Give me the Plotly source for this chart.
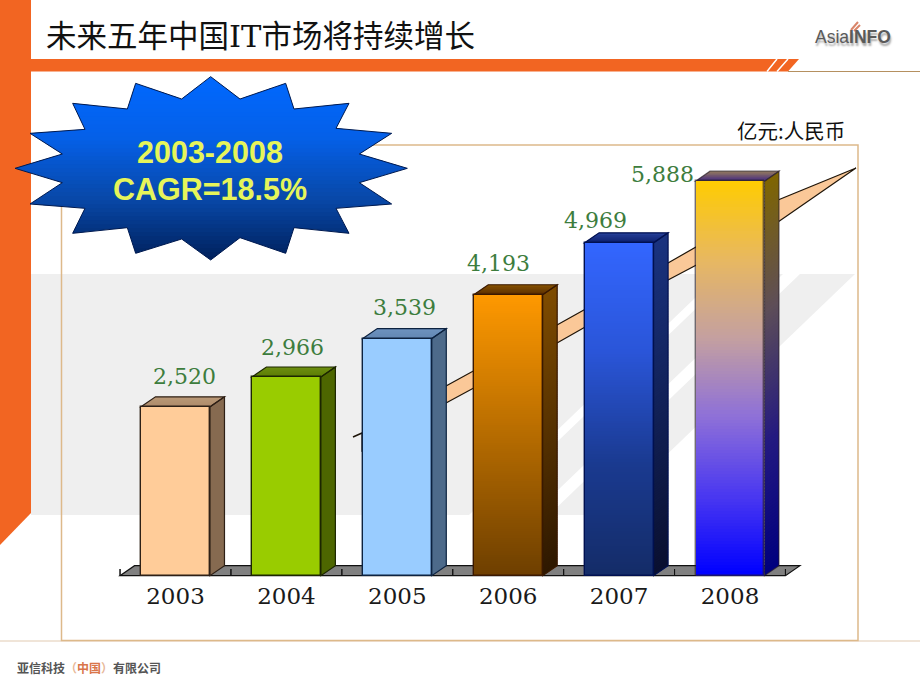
import plotly.graph_objects as go

# ---------- data ----------
years = ["2003", "2004", "2005", "2006", "2007", "2008"]
values = [2520, 2966, 3539, 4193, 4969, 5888]
title_text = "未来五年中国IT市场将持续增长"
unit_text = "亿元:人民币"
star_lines = ["2003-2008", "CAGR=18.5%"]

# label nudges (pixels relative to the bar's centre / top)
label_dx = [9, 6, 7, -10, -24, -68]
label_dy = [30, 29, 31, 31, 22, 7]

front_stops = [
    ["#FFCC99"], ["#99CC00"], ["#99CCFF"],
    ["#FF9900", "#6E3F00"],
    ["#3366FF", "#2A55D8", "#1A3A90", "#142C68"],
    ["#FFCC00", "#E8B860", "#C4A0A0", "#8E70D8", "#4A38F0", "#0000FF"],
]
side_stops = [
    ["#866A50"], ["#4D6600"], ["#4D6A8A"],
    ["#7F4C00", "#2E1800"],
    ["#1A3380", "#0A1030"],
    ["#806600", "#5E4E58", "#241A80", "#00007F"],
]
top_colors = [
    ("#BC9A78", "#AE8C6C"), ("#6E9010", "#5E7E06"), ("#6E94C0", "#6488B4"),
    ("#8A5600", "#5E3000"), ("#2A44A0", "#0E2270"), ("#A08558", "#4A3080"),
]
outline = ["#2E2016", "#1C2600", "#0C2240", "#3A1800", "#001050", "rgba(40,30,40,0.65)"]

# ---------- geometry (pixel calibration of the reference) ----------
W, H = 920, 690
BASE_PX, PX_PER_VALUE = 575.7, 0.067
FIRST_PX, PX_PER_CAT = 175.5, 110.9
BAR_W = 0.622
DX = 14.5 / PX_PER_CAT
DV = 10 / PX_PER_VALUE
ORANGE = "#F26522"
N_SLICES = 130
LAP = 20  # overlap between gradient slices, avoids hairline seams


def px(x):
    return x / W


def py(y):
    return 1 - y / H


def hex2rgb(c):
    return tuple(int(c[i:i + 2], 16) for i in (1, 3, 5))


def ramp(stops, t):
    if len(stops) == 1:
        return stops[0]
    p = t * (len(stops) - 1)
    k = min(int(p), len(stops) - 2)
    f = p - k
    a, b = hex2rgb(stops[k]), hex2rgb(stops[k + 1])
    return "rgb(%d,%d,%d)" % tuple(round(a[j] + (b[j] - a[j]) * f) for j in range(3))


def page_path(points):
    return "M " + " L ".join(f"{px(x):.5f},{py(y):.5f}" for x, y in points) + " Z"


def page_shape(points, fill=None, line=None, width=0, layer="below"):
    return dict(type="path", xref="paper", yref="paper", layer=layer, path=page_path(points),
                fillcolor=fill or "rgba(0,0,0,0)",
                line=dict(color=line or "rgba(0,0,0,0)", width=width))


def data_shape(points, fill=None, line=None, width=0):
    path = "M " + " L ".join(f"{x:.4f},{y:.2f}" for x, y in points) + " Z"
    return dict(type="path", xref="x", yref="y", layer="below", path=path,
                fillcolor=fill or "rgba(0,0,0,0)",
                line=dict(color=line or "rgba(0,0,0,0)", width=width))


def clip_band(poly, y0, y1):
    def clip(pts, inside, cross):
        out = []
        for i, p in enumerate(pts):
            q = pts[(i + 1) % len(pts)]
            if inside(p):
                out.append(p)
            if inside(p) != inside(q):
                out.append(cross(p, q))
        return out

    def at(yv):
        return lambda p, q: (p[0] + (q[0] - p[0]) * (yv - p[1]) / (q[1] - p[1]), yv)

    r = clip(poly, lambda p: p[1] >= y0, at(y0))
    if r:
        r = clip(r, lambda p: p[1] <= y1, at(y1))
    return r


shapes = []

# ---------- slide background ----------
S = 0.96  # slope of the pale stripes
GT, GB = 274, 515
shapes.append(page_shape([(31, GT), (720, GT), (720 - (GB - GT) / S, GB), (31, GB)], "#EFEFEF"))
shapes.append(page_shape([(732, GT), (783, GT), (783 - (GB - GT) / S, GB), (732 - (GB - GT) / S, GB)], "#EFEFEF"))
shapes.append(page_shape([(800, GT), (855, GT), (855 - (GB - GT) / S, GB), (800 - (GB - GT) / S, GB)], "#EFEFEF"))

shapes.append(page_shape([(0, 641), (920, 641)], line="#EBDCCB", width=1))
shapes.append(page_shape([(61.5, 145), (858, 145), (858, 640.5), (61.5, 640.5)], line="#DDB98A", width=1.5))

shapes.append(page_shape([(0, 0), (31, 0), (31, 513), (0, 545)], ORANGE))
shapes.append(page_shape([(31, 59), (799, 59), (788, 71.5), (31, 71.5)], ORANGE))
shapes.append(page_shape([(767, 71.5), (777, 59)], line="#FFFFFF", width=1.5))
shapes.append(page_shape([(777, 71.5), (788, 59)], line="#FFFFFF", width=1.5))
shapes.append(page_shape([(788, 71.5), (920, 71.5)], line="#B59060", width=1.2))

# logo flame
shapes.append(page_shape([(851, 30), (858, 22)], line="#D9856A", width=2))
shapes.append(page_shape([(854, 31), (860, 25)], line="#D9856A", width=2))

# trend arrow behind the bars
arrow = [(362, 433), (446, 386), (557, 325), (668, 263), (778, 200), (856, 168),
         (778, 222), (668, 280), (557, 343), (446, 403), (362, 451)]
shapes.append(page_shape(arrow, "#FAC898", "#1E1408", 1.2))
shapes.append(page_shape([(353, 437), (362, 433)], line="#1E1408", width=1.5))

# ---------- floor ----------
n = len(years)
shapes.append(data_shape([(-0.5, 0), (n - 0.5, 0), (n - 0.5 + DX, DV), (-0.5 + DX, DV)],
                         "#808080", "#111111", 1.2))
for i in range(n + 1):
    shapes.append(data_shape([(i - 0.5, 0), (i - 0.5, 100)], line="#111111", width=1))

# ---------- 3-D side and top faces ----------
traces = []
for i, v in enumerate(values):
    x1, x2 = i + BAR_W / 2, i + BAR_W / 2 + DX
    xl = i - BAR_W / 2
    stops = side_stops[i]
    m = 1 if len(stops) == 1 else N_SLICES
    for k in range(m):
        hi = v * (1 - k / m)
        lo = v * (1 - (k + 1) / m)
        lap = LAP if k else 0
        shapes.append(data_shape([(x1, lo), (x1, hi + lap), (x2, hi + lap + DV), (x2, lo + DV)],
                                 ramp(stops, (k + 0.5) / m)))
    back, front = top_colors[i]
    tops = 6
    for k in range(tops):
        t0 = max(0, k / tops - 0.1)
        t1 = (k + 1) / tops
        shapes.append(data_shape([
            (xl + DX * (1 - t0), v + DV * (1 - t0)), (x1 + DX * (1 - t0), v + DV * (1 - t0)),
            (x1 + DX * (1 - t1), v + DV * (1 - t1)), (xl + DX * (1 - t1), v + DV * (1 - t1))],
            ramp([back, front], (k + 0.5) / tops)))
    shapes.append(data_shape([(x1, 0), (x1, v), (x2, v + DV), (x2, DV)], None, outline[i], 1.2))
    shapes.append(data_shape([(xl, v), (xl + DX, v + DV), (x2, v + DV), (x1, v)], None, outline[i], 1.2))

    # front face: a stack of thin bars carrying the gradient
    fs = front_stops[i]
    m = 1 if len(fs) == 1 else N_SLICES
    tops_y = [v * (1 - k / m) + (LAP if k else 0) for k in range(m)]
    base_y = [v * (1 - (k + 1) / m) for k in range(m)]
    traces.append(go.Bar(
        x=[i] * m, y=[a - b for a, b in zip(tops_y, base_y)], base=base_y,
        width=BAR_W, marker=dict(color=[ramp(fs, (k + 0.5) / m) for k in range(m)], line=dict(width=0)),
        hoverinfo="skip", showlegend=False))

traces.append(go.Bar(
    x=list(range(n)), y=values, width=BAR_W,
    marker=dict(color="rgba(0,0,0,0)", line=dict(color=outline, width=1.4)),
    name="亿元", showlegend=False))

# ---------- star ----------
star = [(632, 230), (720, 297), (857, 250), (882, 327), (1047, 310), (1008, 385), (1175, 400),
        (1078, 462), (1222, 505), (1078, 548), (1175, 612), (1008, 625), (1047, 700), (882, 683),
        (857, 760), (720, 713), (632, 780), (545, 717), (407, 760), (382, 683), (218, 700),
        (255, 625), (90, 612), (187, 548), (45, 505), (187, 462), (90, 400), (255, 388),
        (218, 310), (382, 327), (407, 250), (545, 297)]
star = [(a / 3, b / 3) for a, b in star]
star_top, star_bot = min(p[1] for p in star), max(p[1] for p in star)
star_stops = ["#0068FF", "#0560E8", "#0848A8", "#00205C"]
bands = 46
for k in range(bands):
    y0 = star_top + (star_bot - star_top) * k / bands
    y1 = star_top + (star_bot - star_top) * (k + 1) / bands + 1
    piece = clip_band(star, y0, y1)
    if len(piece) > 2:
        shapes.append(page_shape(piece, ramp(star_stops, (k + 0.5) / bands), layer="above"))
shapes.append(page_shape(star, None, "#001A50", 1, layer="above"))

# ---------- text ----------
annotations = []


def page_text(x, y, text, size, color, family, anchor="left"):
    annotations.append(dict(xref="paper", yref="paper", x=px(x), y=py(y), text=text, showarrow=False,
                            xanchor=anchor, yanchor="middle", align=anchor,
                            font=dict(size=size, color=color, family=family)))


CJK = "Noto Sans CJK SC"
page_text(44, 37, title_text, 30.5, "#111111", f"DejaVu Serif, {CJK}")
page_text(735, 130, unit_text, 20.5, "#111111", CJK)
page_text(210, 152, f"<b>{star_lines[0]}</b>", 30.5, "#E6F55A", "Liberation Sans", "center")
page_text(210, 189, f"<b>{star_lines[1]}</b>", 30.5, "#E6F55A", "Liberation Sans", "center")
page_text(15, 667,
          "<b>亚信科技<span style='color:#E8B898'>（</span><span style='color:#D9764A'>中国</span>"
          "<span style='color:#E8B898'>）</span>有限公司</b>", 12, "#555555", CJK)
annotations.append(dict(xref="paper", yref="paper", x=px(813), y=py(37), text="Asia<b>INFO</b>",
                        showarrow=False, xanchor="left", yanchor="middle",
                        font=dict(size=17.5, color="#5A5A5A", family="Liberation Sans",
                                  shadow="1px 3px 2px #AAAAAA")))
for i, v in enumerate(values):
    annotations.append(dict(xref="x", yref="y", x=i, y=v, text=f"{v:,}", showarrow=False,
                            xanchor="center", yanchor="middle",
                            xshift=label_dx[i], yshift=label_dy[i],
                            font=dict(size=22, color="#3D7D3D", family="DejaVu Serif")))

fig = go.Figure(traces)
fig.update_layout(
    width=W, height=H, margin=dict(l=0, r=0, t=0, b=0), autosize=False,
    paper_bgcolor="#FFFFFF", plot_bgcolor="#FFFFFF", barmode="overlay", bargap=0,
    showlegend=False, shapes=shapes, annotations=annotations,
    xaxis=dict(range=[-FIRST_PX / PX_PER_CAT, (W - FIRST_PX) / PX_PER_CAT], domain=[0, 1],
               tickmode="array", tickvals=list(range(n)), ticktext=years, ticklen=0,
               ticklabelstandoff=4, showgrid=False, zeroline=False, showline=False,
               anchor="free", position=(H - BASE_PX) / H,
               tickfont=dict(size=23, color="#1A1A1A", family="DejaVu Serif"), fixedrange=True),
    yaxis=dict(range=[-(H - BASE_PX) / PX_PER_VALUE, BASE_PX / PX_PER_VALUE], domain=[0, 1],
               visible=False, fixedrange=True),
)
fig.write_html("out.html", config={"displayModeBar": False},
               post_script="document.body.style.margin='0';document.body.style.overflow='hidden';")
